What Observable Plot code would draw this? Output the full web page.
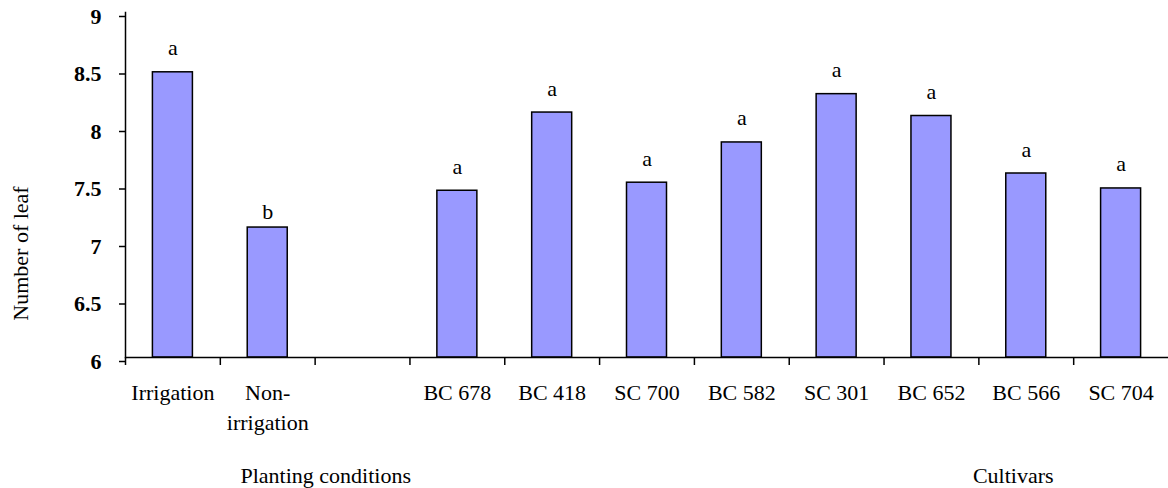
<!DOCTYPE html>
<html>
<head>
<meta charset="utf-8">
<script src="https://cdn.jsdelivr.net/npm/d3@7"></script>
<script src="https://cdn.jsdelivr.net/npm/@observablehq/plot@0.6"></script>
<style>
  html, body { margin: 0; padding: 0; background: #fff; overflow: hidden; }
  #chart svg { display: block; }
  #chart svg, #chart svg text { font-family: "Liberation Serif", "Times New Roman", serif !important; }
  g[aria-label="y-axis tick label"] text { font-weight: bold; }
</style>
</head>
<body>
<div id="chart"></div>
<script>
// ---- data ----
const conditions = ["Irrigation", "Non-irrigation"];
const conditionValues = [8.48, 7.13];
const conditionLetters = ["a", "b"];

const cultivars = ["BC 678", "BC 418", "SC 700", "BC 582", "SC 301", "BC 652", "BC 566", "SC 704"];
const cultivarValues = [7.45, 8.13, 7.52, 7.87, 8.29, 8.10, 7.60, 7.47];
const cultivarLetters = ["a", "a", "a", "a", "a", "a", "a", "a"];

const xDomain = [...conditions, "", ...cultivars];
const xTickLabels = ["Irrigation", "Non-\nirrigation", "", "BC 678", "BC 418", "SC 700", "BC 582", "SC 301", "BC 652", "BC 566", "SC 704"];
const yTicks = [6, 6.5, 7, 7.5, 8, 8.5, 9];
const yLabel = "Number of leaf";
const groupTitles = ["Planting conditions", "Cultivars"];

// ---- table ----
const rows = [
  ...conditions.map((c, i) => ({cat: c, value: conditionValues[i], letter: conditionLetters[i]})),
  ...cultivars.map((c, i) => ({cat: c, value: cultivarValues[i], letter: cultivarLetters[i]}))
];

// ---- layout ----
const W = 1168, H = 488;
const mL = 125, mR = 0, mT = 12, mB = 131;
const step = (W - mL - mR) / xDomain.length;
const barWidth = 40;
const inset = (step - barWidth) / 2;
const font = "'Liberation Serif', 'Times New Roman', serif";

const chart = Plot.plot({
  width: W,
  height: H,
  marginLeft: mL,
  marginRight: mR,
  marginTop: mT,
  marginBottom: mB,
  style: {fontFamily: font, fontSize: "22px", color: "black", background: "white", overflow: "visible"},
  x: {domain: xDomain, padding: 0, round: false},
  y: {domain: [6, 9], clamp: true},
  marks: [
    Plot.barY(rows, {x: "cat", y: "value", fill: "#9999FF", stroke: "black", strokeWidth: 1.5, insetLeft: inset, insetRight: inset}),
    Plot.text(rows.filter(d => d.letter !== "b"), {x: "cat", y: "value", text: "letter", dy: -24, lineAnchor: "middle", fontSize: 22}),
    Plot.text(rows.filter(d => d.letter === "b"), {x: "cat", y: "value", text: "letter", dy: -16, lineAnchor: "middle", fontSize: 22}),
    Plot.ruleY([6], {stroke: "black", strokeWidth: 1.5}),
    Plot.frame({anchor: "left", stroke: "black", strokeWidth: 1.5}),
    Plot.axisY({ticks: yTicks, tickSize: 6, tickPadding: 18, strokeWidth: 1.5, fontWeight: "bold", fontSize: 22, dy: 4, label: null, tickFormat: d => String(d)}),
    Plot.axisX({tickSize: 8, strokeWidth: 1.5, dx: -step / 2, tickFormat: () => "", label: null}),
    Plot.axisX({tickSize: 0, tickPadding: 22, lineHeight: 1.33, fontSize: 22, label: null,
      tickFormat: d => xTickLabels[xDomain.indexOf(d)]}),
    Plot.text([yLabel], {frameAnchor: "left", rotate: -90, dx: -105, dy: 68.5, textAnchor: "middle", lineAnchor: "middle", fontSize: 22}),
    Plot.text([groupTitles[0]], {x: () => conditions[1], frameAnchor: "bottom", dx: 58, dy: 118.5, lineAnchor: "middle", fontSize: 22}),
    Plot.text([groupTitles[1]], {x: () => cultivars[6], frameAnchor: "bottom", dx: -13, dy: 118.5, lineAnchor: "middle", fontSize: 22})
  ]
});

document.getElementById("chart").appendChild(chart);
</script>
</body>
</html>
